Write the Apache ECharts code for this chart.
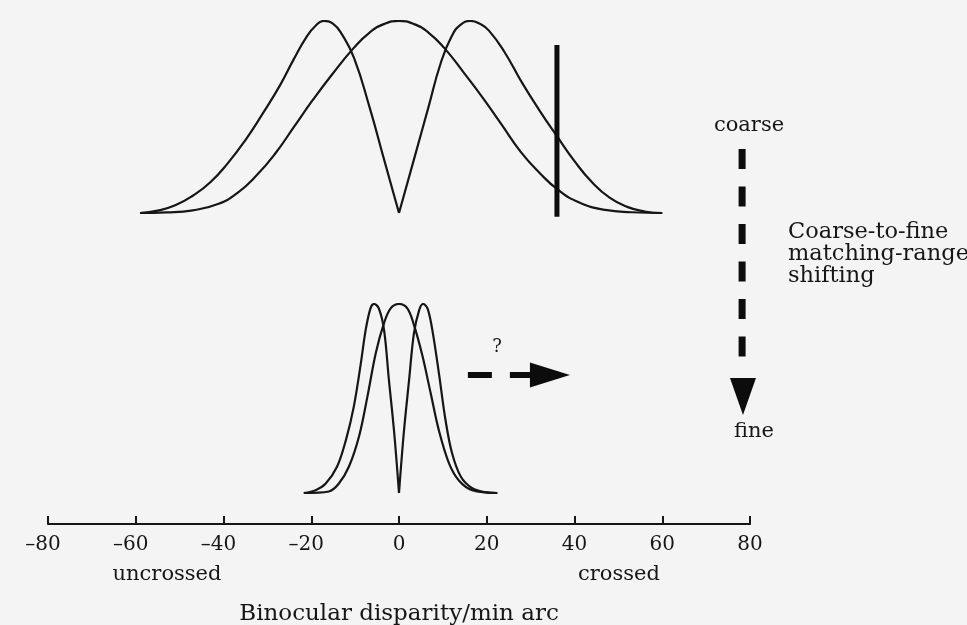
<!DOCTYPE html>
<html>
<head>
<meta charset="utf-8">
<script src="https://cdn.jsdelivr.net/npm/echarts/dist/echarts.min.js"></script>
<style>
  html, body { margin: 0; padding: 0; background: #f4f4f4; }
  #chart { width: 967px; height: 625px; }
</style>
</head>
<body>
<div id="chart"></div>
<script>
// ---- data (x: disparity in min arc, y: relative response) ----
const xTicks = [-80, -60, -40, -20, 0, 20, 40, 60, 80];
const tickLabels = ['–80', '–60', '–40', '–20', '0', '20', '40', '60', '80'];

// coarse channel (upper panel)
const coarseCenter = [[-59,0],[-53,0.003],[-47,0.014],[-41.1,0.048],[-36.8,0.105],[-32.5,0.195],[-28.2,0.31],[-23.9,0.45],[-19.6,0.59],[-15.3,0.72],[-10.3,0.86],[-6.7,0.94],[-3.3,0.985],[0,1],[3.3,0.985],[6.7,0.94],[10.3,0.86],[14.8,0.73],[19.1,0.6],[23.4,0.46],[27.7,0.32],[32.0,0.21],[36.3,0.12],[41.1,0.055],[47,0.016],[53,0.004],[60,0]];
const coarseLeft = [[-59,0],[-55,0.012],[-51,0.04],[-47,0.09],[-43,0.16],[-39,0.26],[-35,0.38],[-31,0.52],[-27,0.67],[-24,0.8],[-21,0.92],[-19,0.975],[-17.2,1.0],[-15,0.985],[-13,0.93],[-10.3,0.81],[-6.7,0.55],[-3.3,0.27],[0,0]];
const coarseRight = [[0,0],[3.3,0.27],[6.7,0.55],[9.5,0.78],[12,0.92],[14,0.98],[16.3,1.0],[18.5,0.985],[20.5,0.95],[24,0.84],[28,0.68],[32,0.535],[36,0.40],[40,0.27],[44,0.16],[48,0.08],[52,0.032],[56,0.008],[60,0]];
const coarseMarker = [[36,-0.02],[36,0.875]];

// fine channel (lower panel)
const fineLeft = [[-21.7,0],[-19,0.015],[-16.7,0.05],[-14.1,0.14],[-12.1,0.28],[-10.3,0.457],[-8.7,0.686],[-7.6,0.862],[-6.5,0.977],[-5.7,1.0],[-4.6,0.977],[-3.4,0.862],[-2.3,0.598],[-1.1,0.32],[0,0]];
const fineCenter = [[-21.7,0],[-16,0.008],[-13.7,0.05],[-11.4,0.14],[-9.1,0.30],[-7.2,0.51],[-5.3,0.74],[-3.4,0.90],[-1.9,0.977],[0,1],[1.9,0.977],[3.4,0.89],[5.3,0.73],[7.2,0.53],[9.1,0.33],[11.4,0.157],[13.7,0.065],[16.7,0.015],[22.4,0]];
const fineRight = [[0,0],[1.1,0.32],[2.3,0.598],[3.4,0.845],[4.6,0.968],[5.5,1.0],[6.5,0.977],[7.6,0.862],[9.1,0.633],[10.6,0.386],[12.1,0.21],[14.1,0.086],[16.7,0.025],[19.5,0.005],[22.4,0]];

// annotation arrows (in lower-panel data units)
const shiftArrow = [[15.7,0.624],[30.5,0.624]];
const shiftHead = [34.4,0.624];
const scaleArrow = [[78.2,1.82],[78.2,0.714]];
const scaleHead = [78.4,0.511];

// ---- chart ----
const INK = '#161616';
const FONT = 'DejaVu Serif';
const chart = echarts.init(document.getElementById('chart'), null, { renderer: 'canvas' });

function curve(data, grid, extra) {
  return Object.assign({
    type: 'line', data: data, xAxisIndex: grid, yAxisIndex: grid,
    symbol: 'none', smooth: 0.5, silent: true, animation: false,
    lineStyle: { color: INK, width: 2.2 }
  }, extra || {});
}

const option = {
  backgroundColor: '#f4f4f4',
  animation: false,
  grid: [
    { left: 48, right: 217, top: 21, height: 211.2, outerBoundsMode: 'none', containLabel: false },
    { left: 48, right: 217, top: 304, height: 220, outerBoundsMode: 'none', containLabel: false }
  ],
  xAxis: [
    { gridIndex: 0, type: 'value', min: -80, max: 80, interval: 20, show: false },
    {
      gridIndex: 1, type: 'value', min: -80, max: 80, interval: 20,
      splitLine: { show: false },
      axisLine: { show: true, onZero: false, lineStyle: { color: INK, width: 2 } },
      axisTick: { show: true, inside: true, length: 8, lineStyle: { color: INK, width: 2 } },
      axisLabel: {
        show: true, margin: 11, showMinLabel: true, showMaxLabel: true,
        formatter: function (v) {
          const i = xTicks.indexOf(v);
          const t = i >= 0 ? tickLabels[i] : String(v);
          return v < 0 ? '{n|' + t + '}' : '{p|' + t + '}';
        },
        rich: {
          n: { fontFamily: FONT, fontSize: 20, color: INK, padding: [0, 10, 0, 0] },
          p: { fontFamily: FONT, fontSize: 20, color: INK }
        }
      },
      name: 'Binocular disparity/min arc',
      nameLocation: 'middle', nameGap: 79,
      nameTextStyle: { fontFamily: FONT, fontSize: 23, color: INK }
    }
  ],
  yAxis: [
    { gridIndex: 0, type: 'value', min: -0.1, max: 1, show: false },
    { gridIndex: 1, type: 'value', min: -0.164, max: 1, show: false }
  ],
  series: [
    curve(coarseCenter, 0),
    curve(coarseLeft, 0),
    curve(coarseRight, 0),
    curve(coarseMarker, 0, { smooth: false, lineStyle: { color: '#0c0c0c', width: 5 } }),
    curve(fineCenter, 1, { smooth: 0.35 }),
    curve(fineLeft, 1, { smooth: 0.35 }),
    curve(fineRight, 1, { smooth: 0.35 }),
    curve(shiftArrow, 1, { smooth: false, clip: false, lineStyle: { color: '#0c0c0c', width: 6, type: [24, 18], cap: 'butt' } }),
    curve(scaleArrow, 1, { smooth: false, clip: false, lineStyle: { color: '#0c0c0c', width: 7, type: [20, 17.5], cap: 'butt' } }),
    {
      type: 'scatter', xAxisIndex: 1, yAxisIndex: 1, clip: false, silent: true,
      symbol: 'triangle', itemStyle: { color: '#0c0c0c', opacity: 1 },
      data: [
        { value: shiftHead, symbolSize: [25, 40], symbolRotate: -90 },
        { value: scaleHead, symbolSize: [26, 37], symbolRotate: 180 }
      ]
    }
  ],
  graphic: [
    { type: 'text', x: 167, y: 575, style: { text: 'uncrossed', font: '21px "DejaVu Serif"', fill: INK, textAlign: 'center', textVerticalAlign: 'middle' } },
    { type: 'text', x: 619, y: 575, style: { text: 'crossed', font: '21px "DejaVu Serif"', fill: INK, textAlign: 'center', textVerticalAlign: 'middle' } },
    { type: 'text', x: 749, y: 126, style: { text: 'coarse', font: '21px "DejaVu Serif"', fill: INK, textAlign: 'center', textVerticalAlign: 'middle' } },
    { type: 'text', x: 754, y: 432, style: { text: 'fine', font: '21px "DejaVu Serif"', fill: INK, textAlign: 'center', textVerticalAlign: 'middle' } },
    { type: 'text', x: 497, y: 347, style: { text: '?', font: '18px "DejaVu Serif"', fill: INK, textAlign: 'center', textVerticalAlign: 'middle' } },
    { type: 'text', x: 788, y: 221, style: { text: 'Coarse-to-fine\nmatching-range\nshifting', font: '22.5px "DejaVu Serif"', lineHeight: 22, fill: INK, textAlign: 'left', textVerticalAlign: 'top' } }
  ]
};
chart.setOption(option);
</script>
</body>
</html>
